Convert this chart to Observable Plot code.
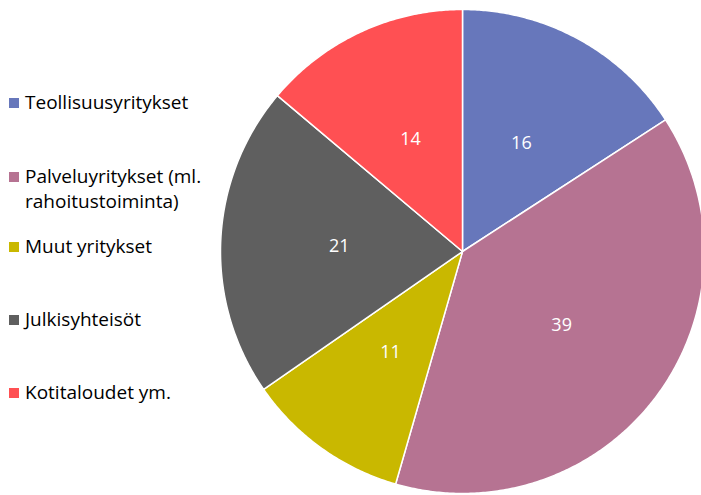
<!DOCTYPE html>
<html>
<head>
<meta charset="utf-8">
<script src="https://cdn.jsdelivr.net/npm/d3@7"></script>
<script src="https://cdn.jsdelivr.net/npm/@observablehq/plot@0.6"></script>
<style>
  body { margin: 0; background: #fff; font-family: "Open Sans", sans-serif; }
  #wrap { position: relative; width: 701px; height: 495px; overflow: hidden; }
  #chart { position: absolute; left: 0; top: 0; }
  .leg { position: absolute; left: 9px; font-size: 19px; line-height: 25px; color: #000; white-space: nowrap; }
  .leg .sw { position: absolute; left: 0; top: 8px; width: 10px; height: 10px; }
  .leg .tx { margin-left: 16px; display: block; }
</style>
</head>
<body>
<div id="wrap"><div id="chart"></div></div>
<script>
const categories = ["Teollisuusyritykset", "Palveluyritykset (ml. rahoitustoiminta)", "Muut yritykset", "Julkisyhteisöt", "Kotitaloudet ym."];
const legendLines = [["Teollisuusyritykset"], ["Palveluyritykset (ml.", "rahoitustoiminta)"], ["Muut yritykset"], ["Julkisyhteisöt"], ["Kotitaloudet ym."]];
const values = [16, 39, 11, 21, 14];
const colors = ["#6777BB", "#B67392", "#C9B800", "#5F5F5F", "#FF5053"];

const total = d3.sum(values);
const slices = [];
const labels = [];
let acc = 0;
values.forEach((v, i) => {
  const a0 = acc / total * 2 * Math.PI;
  acc += v;
  const a1 = acc / total * 2 * Math.PI;
  const n = Math.max(2, Math.ceil((a1 - a0) / (Math.PI / 360)));
  slices.push({cat: categories[i], x: 0, y: 0});
  for (let k = 0; k <= n; k++) {
    const a = a0 + (a1 - a0) * k / n;
    slices.push({cat: categories[i], x: Math.sin(a), y: Math.cos(a)});
  }
  slices.push({cat: categories[i], x: 0, y: 0});
  const m = (a0 + a1) / 2;
  labels.push({cat: categories[i], value: v, x: 0.51 * Math.sin(m), y: 0.51 * Math.cos(m)});
});

const plot = Plot.plot({
  width: 701,
  height: 495,
  margin: 0,
  x: {domain: [-1, 1], range: [220, 704], axis: null},
  y: {domain: [-1, 1], range: [493, 9], axis: null},
  color: {domain: categories, range: colors},
  style: {fontFamily: "Open Sans, sans-serif", background: "transparent"},
  marks: [
    Plot.line(slices, {x: "x", y: "y", z: "cat", fill: "cat", stroke: "white", strokeWidth: 1.5, strokeLinejoin: "round"}),
    Plot.text(labels, {x: "x", y: "y", text: d => String(d.value), fill: "white", fontSize: 18})
  ]
});
document.getElementById("chart").appendChild(plot);

const tops = [90, 164, 234, 307, 380];
const wrap = document.getElementById("wrap");
legendLines.forEach((lines, i) => {
  const div = document.createElement("div");
  div.className = "leg";
  div.style.top = tops[i] + "px";
  const sw = document.createElement("span");
  sw.className = "sw";
  sw.style.background = colors[i];
  div.appendChild(sw);
  lines.forEach(t => {
    const s = document.createElement("span");
    s.className = "tx";
    s.textContent = t;
    div.appendChild(s);
  });
  wrap.appendChild(div);
});
</script>
</body>
</html>
